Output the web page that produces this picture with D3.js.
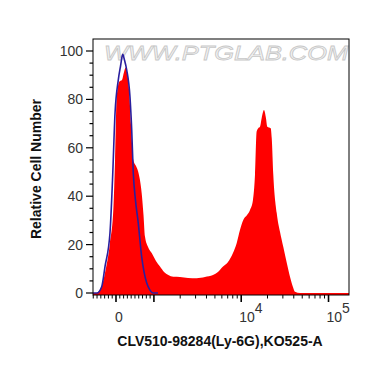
<!DOCTYPE html>
<html><head><meta charset="utf-8">
<script src="https://cdn.jsdelivr.net/npm/d3@7"></script>
<style>body{margin:0;background:#fff}svg{display:block}</style>
</head><body>
<script>
// Histogram data: position on the display (logicle-like) scale in decades, relative count
const redPos = [-0.263,-0.221,-0.195,-0.164,-0.126,-0.069,-0.031,-0.011,0.008,0.038,0.069,0.092,0.111,0.132,0.152,0.172,0.198,0.229,0.255,0.294,0.315,0.332,0.367,0.409,0.458,0.504,0.550,0.599,0.656,0.733,0.825,0.924,1.019,1.111,1.168,1.226,1.283,1.340,1.383,1.420,1.458,1.501,1.535,1.569,1.592,1.611,1.632,1.649,1.669,1.695,1.718,1.733,1.772,1.784,1.802,1.841,1.879,1.916,1.959,1.993,2.027,2.050,2.108,2.669];
const redCount = [0,0,0.8,2.6,8.3,20.7,34.3,55,81.1,87.3,88,91.3,93.2,90.1,83.1,69.4,55,52.5,50,41.3,32.2,23.3,19,16.5,13.2,10.9,8.7,7.4,6.7,6.6,6.2,6.1,6.6,7.4,8.7,10.9,12.8,16.5,20.7,26,30.2,32.2,34.3,38.4,48.8,66.7,68.2,68.7,72.3,75.6,72.2,68.7,68.1,63.9,48.8,33.1,25.2,19.1,12,6.7,2.5,0.5,0,0];
const bluePos = [-0.263,-0.218,-0.164,-0.126,-0.069,-0.040,-0.011,0.026,0.052,0.077,0.097,0.123,0.160,0.180,0.198,0.223,0.255,0.294,0.321,0.352,0.389,0.424,0.481];
const blueCount = [0,0,2.6,10.9,24.8,46.7,74.4,88,93.8,98.6,96.3,92.1,81.1,67.4,49.6,38.4,28.9,15,8.7,4.1,1.2,0,0];
const yTicks = [0,20,40,60,80,100];
const xMajorValues = [0,1e3,1e4,1e5];
const xLabels = [{v:0,base:"0",exp:""},{v:1e4,base:"10",exp:"4"},{v:1e5,base:"10",exp:"5"}];
const xTitle = "CLV510-98284(Ly-6G),KO525-A";
const yTitle = "Relative Cell Number";
const watermark = "WWW.PTGLAB.COM";

// display transform: linear below 1000, log above (continuous slope)
function disp(v){
  const a = Math.abs(v);
  if (a <= 1000) return v/(1000*Math.LN10);
  return Math.sign(v)*(1/Math.LN10 + Math.log10(a/1000));
}

const W=370,H=367;
const L=93,R=349,T=39,B=295;
const svg=d3.select("body").append("svg").attr("width",W).attr("height",H);
const x=d3.scaleLinear().domain([0,1]).range([116,203.3]);
const y=d3.scaleLinear().domain([0,100]).range([293,51]);
const font="'Liberation Sans', Arial, sans-serif";

// watermark
svg.append("text").attr("x",104).attr("y",60).attr("textLength",244).attr("lengthAdjust","spacingAndGlyphs")
  .attr("font-family",font).attr("font-style","italic").attr("font-size",21)
  .attr("fill","#f4f4f4").attr("stroke","#c8c8c8").attr("stroke-width",0.8).text(watermark);

const clip = svg.append("clipPath").attr("id","c").append("rect").attr("x",L).attr("y",T).attr("width",R-L).attr("height",B-T);
const g = svg.append("g").attr("clip-path","url(#c)");

const redData = redPos.map((p,i)=>[p,redCount[i]]);
const blueData = bluePos.map((p,i)=>[p,blueCount[i]]);
g.append("path").datum(redData)
  .attr("d",d3.area().x(d=>x(d[0])).y0(y(0)+2).y1(d=>y(d[1])).curve(d3.curveMonotoneX))
  .attr("fill","#ff0000");
g.append("path").datum(blueData)
  .attr("d",d3.line().x(d=>x(d[0])).y(d=>y(d[1])).curve(d3.curveMonotoneX))
  .attr("fill","none").attr("stroke","#2a1f9e").attr("stroke-width",1.6);

// frame
svg.append("rect").attr("x",L).attr("y",T).attr("width",R-L).attr("height",B-T)
  .attr("fill","none").attr("stroke","#000").attr("stroke-width",1);

// y ticks
const yMinor = d3.range(0,101,5);
svg.selectAll(".ym").data(yMinor).enter().append("line")
  .attr("x1",L).attr("x2",d=>d%20===0?L-7:L-3.5)
  .attr("y1",d=>y(d)).attr("y2",d=>y(d)).attr("stroke","#000").attr("stroke-width",1.2);
svg.selectAll(".yl").data(yTicks).enter().append("text")
  .attr("x",83).attr("y",d=>y(d)+5).attr("text-anchor","end")
  .attr("font-family",font).attr("font-size",14).attr("fill","#333").text(d=>d);

// x ticks
const dmin=x.invert(L), dmax=x.invert(R);
let minor=[];
for(let v=-900;v<1000;v+=100) minor.push(v);
[1e3,1e4,1e5].forEach(dec=>{for(let k=2;k<=9;k++) minor.push(k*dec);});
minor = minor.filter(v=>{const d=disp(v);return d>=dmin&&d<=dmax&&!xMajorValues.includes(v);});
svg.selectAll(".xm").data(minor).enter().append("line")
  .attr("x1",d=>x(disp(d))).attr("x2",d=>x(disp(d))).attr("y1",B).attr("y2",B+3.5)
  .attr("stroke","#000").attr("stroke-width",1);
svg.selectAll(".xM").data(xMajorValues).enter().append("line")
  .attr("x1",d=>x(disp(d))).attr("x2",d=>x(disp(d))).attr("y1",B).attr("y2",B+7)
  .attr("stroke","#000").attr("stroke-width",1.6);
xLabels.forEach(l=>{
  const px=x(disp(l.v));
  const t=svg.append("text").attr("font-family",font).attr("font-size",14).attr("fill","#333").attr("y",322);
  if(l.exp===""){ t.attr("x",px+3).attr("text-anchor","middle").text(l.base); }
  else { t.attr("x",px-2).attr("text-anchor","start");
    t.append("tspan").text(l.base);
    t.append("tspan").attr("dy",-9).attr("font-size",14).text(l.exp); }
});

// titles
svg.append("text").attr("x",220).attr("y",346).attr("text-anchor","middle")
  .attr("font-family",font).attr("font-weight","bold").attr("font-size",14).attr("fill","#111").text(xTitle);
svg.append("text").attr("transform","translate(41,169) rotate(-90)").attr("text-anchor","middle")
  .attr("font-family",font).attr("font-weight","bold").attr("font-size",14).attr("fill","#111").text(yTitle);
</script>
</body></html>
